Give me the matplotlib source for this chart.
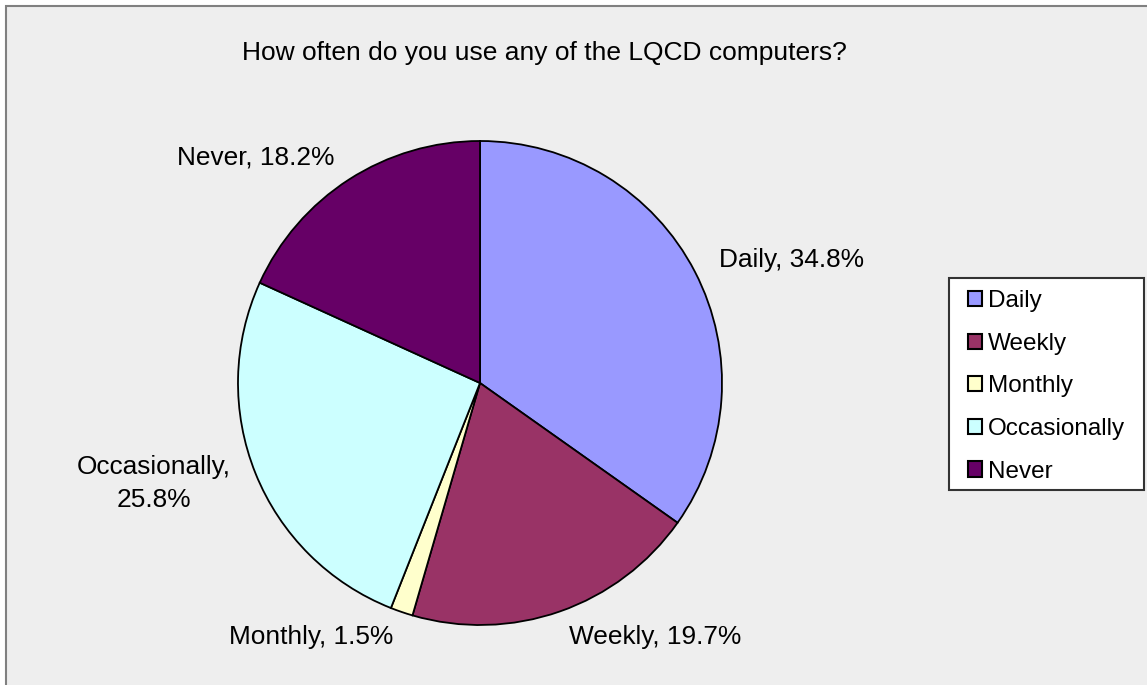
import matplotlib.pyplot as plt
from matplotlib.patches import Rectangle

categories = ["Daily", "Weekly", "Monthly", "Occasionally", "Never"]
shares = [34.8, 19.7, 1.5, 25.8, 18.2]
colors = ["#9999FF", "#993366", "#FFFFCC", "#CCFFFF", "#660066"]
label_texts = ["Daily, 34.8%", "Weekly, 19.7%", "Monthly, 1.5%",
               "Occasionally,\n25.8%", "Never, 18.2%"]

plt.rcParams['font.family'] = ['Liberation Sans', 'DejaVu Sans']

W, H = 1147, 685
fig = plt.figure(figsize=(W / 100, H / 100), dpi=100)
fig.patch.set_facecolor('white')

# chart area frame (cut off at right and bottom like the original)
fig.patches.append(Rectangle((6 / W, -0.01), 1.02, (H - 6) / H + 0.01,
                             transform=fig.transFigure, facecolor='#EEEEEE',
                             edgecolor='#808080', linewidth=1.5, zorder=-5))

cx, cy, r = 480, 383, 242
ax = fig.add_axes([(cx - r) / W, (H - cy - r) / H, 2 * r / W, 2 * r / H])
wedges, texts = ax.pie(shares, labels=label_texts, colors=colors, startangle=90,
                       counterclock=False, labeldistance=1.11,
                       wedgeprops=dict(edgecolor='black', linewidth=1.3),
                       textprops=dict(fontsize=18.9))
texts[3].set_multialignment('center')
texts[3].set_linespacing(1.45)
ax.set_xlim(-1, 1)
ax.set_ylim(-1, 1)
ax.set_aspect('equal')

fig.text(544 / W, 1 - 53 / H, "How often do you use any of the LQCD computers?",
         ha='center', va='center', fontsize=19)

# legend box drawn by hand, entries placed inside it
fig.patches.append(Rectangle((949 / W, 1 - 490 / H), 195 / W, 212 / H,
                             transform=fig.transFigure, facecolor='white',
                             edgecolor='#333333', linewidth=1.5, zorder=1))
leg = fig.legend(wedges, categories, loc='upper left',
                 bbox_to_anchor=(968 / W, 1 - 290 / H), fontsize=17.5,
                 frameon=False, handlelength=0.58, handleheight=0.58,
                 handletextpad=0.25, labelspacing=0.85, borderpad=0,
                 borderaxespad=0)
leg.set_zorder(2)
for h in leg.legend_handles:
    h.set_edgecolor('black')
    h.set_linewidth(1.5)

fig.savefig('out.png', dpi=100)
